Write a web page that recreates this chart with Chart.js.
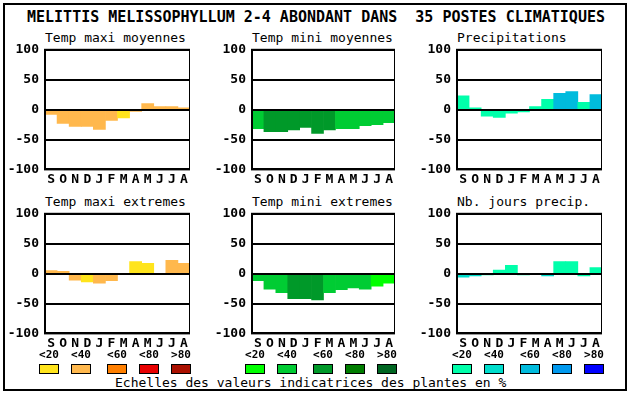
<!DOCTYPE html>
<html>
<head>
<meta charset="utf-8">
<script src="https://cdn.jsdelivr.net/npm/chart.js"></script>
<style>
  body { margin: 0; background: #fff; width: 630px; height: 394px; position: relative; overflow: hidden; }
  #frame { position: absolute; left: 3px; top: 3px; width: 624px; height: 388px; border: 2px solid #000; box-sizing: border-box; }
  .txt { position: absolute; font-family: "DejaVu Sans Mono", monospace; color: #000; white-space: pre; line-height: 1; }
  canvas { position: absolute; }
  .box { position: absolute; width: 20px; height: 10px; border: 1px solid #000; box-sizing: border-box; }
</style>
</head>
<body>
<div id="frame"></div>
<div class="txt" style="left:27px;top:10px;font-size:15px;font-weight:bold">MELITTIS MELISSOPHYLLUM 2-4 ABONDANT DANS  35 POSTES CLIMATIQUES</div>
<div class="txt" style="left:115px;top:376px;font-size:13px">Echelles des valeurs indicatrices des plantes en %</div>

<script>
const months = ['S','O','N','D','J','F','M','A','M','J','J','A'];
const yTicks = [100, 50, 0, -50, -100];
const legendLabels = ['<20', '<40', '<60', '<80', '>80'];

const warm  = ['#ffe41c', '#ffb84d', '#ff7f00', '#e80000', '#aa1000'];
const green = ['#00ff00', '#00cc33', '#009929', '#007d00', '#006622'];
const blue  = ['#00ffaa', '#00ddcc', '#00bbdd', '#0099ee', '#0000ff'];

// values per month (S..A) and their class (index into palette)
const maxiMoy    = [-8, -23, -28, -28, -33, -18, -14, -3, 10, 5, 5, 3];
const maxiMoyCls = [1, 1, 1, 1, 1, 1, 0, 1, 1, 1, 1, 1];
const miniMoy    = [-32, -37, -37, -34, -30, -40, -34, -32, -32, -27, -25, -22];
const miniMoyCls = [1, 2, 2, 2, 2, 2, 2, 1, 1, 1, 1, 1];
const precip     = [23, 3, -11, -13, -6, -4, 5, 17, 27, 30, 12, 25];
const precipCls  = [0, 0, 0, 0, 0, 0, 0, 0, 2, 2, 0, 2];
const maxiExt    = [5, 4, -11, -14, -16, -12, 0, 20, 17, 0, 22, 17];
const maxiExtCls = [1, 1, 1, 0, 1, 1, 1, 0, 0, 1, 1, 1];
const miniExt    = [-12, -26, -32, -42, -42, -44, -32, -27, -24, -26, -21, -16];
const miniExtCls = [1, 1, 1, 2, 2, 2, 1, 1, 1, 1, 0, 0];
const nbJours    = [-6, -4, -2, 6, 14, -2, 0, -4, 20, 20, -4, 10];
const nbJoursCls = [1, 1, 0, 0, 0, 0, 0, 1, 0, 0, 0, 0];

const panels = [
  { title: 'Temp maxi moyennes',   x: 45,  y: 50,  w: 145, data: maxiMoy, cls: maxiMoyCls, pal: warm },
  { title: 'Temp mini moyennes',   x: 252, y: 50,  w: 143, data: miniMoy, cls: miniMoyCls, pal: green },
  { title: 'Precipitations',       x: 457, y: 50,  w: 145, data: precip,  cls: precipCls,  pal: blue },
  { title: 'Temp maxi extremes',   x: 45,  y: 214, w: 145, data: maxiExt, cls: maxiExtCls, pal: warm },
  { title: 'Temp mini extremes',   x: 252, y: 214, w: 143, data: miniExt, cls: miniExtCls, pal: green },
  { title: 'Nb. jours precip.',    x: 457, y: 214, w: 145, data: nbJours, cls: nbJoursCls, pal: blue }
];
const plotH = 120;

const boxPlugin = {
  id: 'box',
  afterDraw(chart) {
    const a = chart.chartArea, ctx = chart.ctx;
    ctx.save();
    ctx.strokeStyle = '#000';
    ctx.lineWidth = 2;
    ctx.strokeRect(a.left, a.top, a.right - a.left, a.bottom - a.top);
    ctx.restore();
  }
};

const tickFont = { family: 'DejaVu Sans Mono', size: 13, weight: 'bold' };

function build(c, p) {
  return new Chart(c, {
    type: 'bar',
    data: {
      labels: months,
      datasets: [{
        data: p.data,
        backgroundColor: p.cls.map(k => p.pal[k]),
        borderWidth: 0,
        categoryPercentage: 1,
        barPercentage: 1
      }]
    },
    options: {
      responsive: false,
      animation: false,
      layout: { padding: 0 },
      scales: {
        x: {
          grid: { display: false, drawTicks: false },
          border: { display: false },
          ticks: { color: '#000', font: tickFont, padding: 2, maxRotation: 0, autoSkip: false }
        },
        y: {
          min: -100,
          max: 100,
          afterBuildTicks: s => { s.ticks = yTicks.map(v => ({ value: v })); },
          grid: { color: '#000', lineWidth: 2, drawTicks: false, z: 1 },
          border: { display: false },
          ticks: { color: '#000', font: tickFont, padding: 6 },
          afterFit: s => { s.width = 40; }
        }
      },
      plugins: { legend: { display: false }, tooltip: { enabled: false } }
    },
    plugins: [boxPlugin]
  });
}

panels.forEach(p => {
  const t = document.createElement('div');
  t.className = 'txt';
  t.style.cssText = `left:${p.x}px;top:${p.y - 19}px;font-size:13px`;
  t.textContent = p.title;
  document.body.appendChild(t);

  // first pass to measure the space taken by the axes
  const m = document.createElement('canvas');
  m.width = 200; m.height = 160;
  document.body.appendChild(m);
  const probe = build(m, p);
  const a0 = probe.chartArea;
  const extraW = 200 - (a0.right - a0.left);
  const extraH = 160 - (a0.bottom - a0.top);
  probe.destroy();
  m.remove();

  const c = document.createElement('canvas');
  c.width = p.w + extraW;
  c.height = plotH + extraH;
  document.body.appendChild(c);
  const chart = build(c, p);
  const a = chart.chartArea;
  c.style.left = (p.x - a.left) + 'px';
  c.style.top = (p.y - a.top) + 'px';
});

// colour scales under each column
const groups = [{ x: 39, pal: warm }, { x: 245, pal: green }, { x: 452, pal: blue }];
const offsets = [0, 32, 68, 100, 132];
groups.forEach(g => {
  g.pal.forEach((col, i) => {
    const b = document.createElement('div');
    b.className = 'box';
    b.style.left = (g.x + offsets[i]) + 'px';
    b.style.top = '364px';
    b.style.background = col;
    document.body.appendChild(b);

    const l = document.createElement('div');
    l.className = 'txt';
    l.style.cssText = `left:${g.x + offsets[i] - 5}px;top:349px;width:30px;text-align:center;font-size:11px;font-weight:bold`;
    l.textContent = legendLabels[i];
    document.body.appendChild(l);
  });
});
</script>
</body>
</html>
